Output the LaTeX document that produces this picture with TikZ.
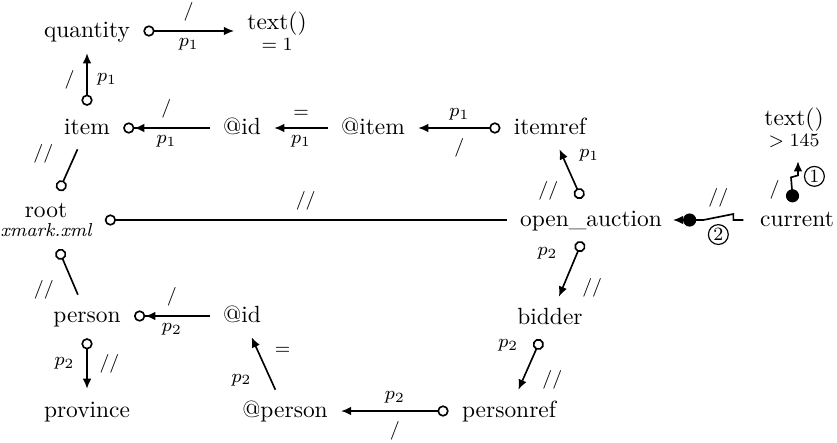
\documentclass[tikz,border=0pt]{standalone}
\usepackage{amsmath}
\usepackage{tikz}
\usetikzlibrary{arrows.meta,calc}

\begin{document}
\begin{tikzpicture}[x=0.015cm, y=-0.015cm,
  elem/.style={inner sep=1pt, text height=1.5ex, text depth=.25ex},
  elem2/.style={inner sep=1pt, align=center},
  lbl/.style={font=\footnotesize, inner sep=1pt},
  num/.style={draw, circle, font=\footnotesize, inner sep=.6pt, line width=.5pt},
  conn/.style={line width=.7pt, shorten <=4.5pt, shorten >=4.5pt},
  Ctx/.tip={Circle[open, length=4.8pt, width=4.8pt]},
  Dot/.tip={Circle[length=5.6pt, width=5.6pt]},
  Head/.tip={Latex[length=4.3pt, width=3.7pt]},
  HeadCtx/.tip={Latex[length=4.3pt, width=3.7pt] Circle[open, length=4.8pt, width=4.8pt]},
  DotHead/.tip={Circle[length=5.6pt, width=5.6pt] Latex[length=4.3pt, width=3.7pt]}]
  \useasboundingbox (0,0) rectangle (837,442);

  % elements
  \node[elem] (quantity) at (87,31) {quantity};
  \node[elem2] (textA) at (277,31) {text()\\[-3pt]{\footnotesize $=1$}};
  \node[elem] (item) at (87,128) {item};
  \node[elem] (idA) at (242,128) {@id};
  \node[elem] (atitem) at (373,128) {@item};
  \node[elem] (itemref) at (550,128) {itemref};
  \node[elem2] (textB) at (794,128) {text()\\[-3pt]{\footnotesize $>145$}};
  \node[elem2] (root) at (46,220) {root\\[-4pt]{\footnotesize\itshape xmark.xml}};
  \node[elem] (auction) at (591,220) {open\_auction};
  \node[elem] (current) at (797,220) {current};
  \node[elem] (person) at (87,316) {person};
  \node[elem] (idB) at (242,316) {@id};
  \node[elem] (bidder) at (550,318) {bidder};
  \node[elem] (province) at (87,411) {province};
  \node[elem] (atperson) at (285,411) {@person};
  \node[elem] (personref) at (509,411) {personref};

  % path p1
  \draw[conn, Ctx-Head] (quantity) -- node[lbl, above=3pt] {$/$} node[lbl, below=2pt] {$p_1$} (textA);
  \draw[conn, Ctx-Head] (item) -- node[lbl, left=4pt] {$/$} node[lbl, right=3pt] {$p_1$} (quantity);
  \draw[conn, -HeadCtx] (idA) -- node[lbl, above=3pt] {$/$} node[lbl, below=2pt] {$p_1$} (item);
  \draw[conn, -Head] (atitem) -- node[lbl, above=3pt] {$=$} node[lbl, below=2pt] {$p_1$} (idA);
  \draw[conn, Ctx-Head] (itemref) -- node[lbl, above=2pt] {$p_1$} node[lbl, below=3pt] {$/$} (atitem);
  \draw[conn, Ctx-Head] (auction) -- node[lbl, pos=.26, left=7pt] {$//$} node[lbl, pos=.77, right=6pt] {$p_1$} (itemref);
  \draw[conn, Ctx-] (root) -- node[lbl, pos=.76, left=8pt] {$//$} (item);

  % root and context
  \draw[conn, Ctx-] (root) -- node[lbl, above=3pt] {$//$} (auction);
  \draw[conn, shorten <=0pt, Dot-Head] ($(current.north)+(-4,-6)$) -- node[lbl, left=4pt] {$/$} ++(-2,-25)
    -- node[num, right=4pt] {1} ++(7,-2) -- ($(textB.south)+(4,0)$);
  \draw[conn, shorten <=0pt, shorten >=3.5pt, -DotHead] ($(current.west)+(-14,0)$) -- ++(-10,0) -- ++(0,-6)
    -- node[lbl, above=3pt] {$//$} node[num, below=3pt] {2} ++(-30,6) -- (auction.east);

  % path p2
  \draw[conn, Ctx-Head] (auction) -- node[lbl, pos=.29, left=7pt] {$p_2$} node[lbl, pos=.75, right=7pt] {$//$} (bidder);
  \draw[conn, Ctx-Head] (bidder) -- node[lbl, pos=.23, left=7pt] {$p_2$} node[lbl, pos=.72, right=7pt] {$//$} (personref);
  \draw[conn, Ctx-Head] (personref) -- node[lbl, above=2pt] {$p_2$} node[lbl, below=3pt] {$/$} (atperson);
  \draw[conn, -Head] (atperson) -- node[lbl, pos=.27, left=7pt] {$p_2$} node[lbl, pos=.68, right=6pt] {$=$} (idB);
  \draw[conn, -HeadCtx] (idB) -- node[lbl, above=3pt] {$/$} node[lbl, below=2pt] {$p_2$} (person);
  \draw[conn, Ctx-] (root) -- node[lbl, pos=.77, left=8pt] {$//$} (person);
  \draw[conn, Ctx-Head] (person) -- node[lbl, left=4pt] {$p_2$} node[lbl, right=4pt] {$//$} (province);
\end{tikzpicture}
\end{document}
